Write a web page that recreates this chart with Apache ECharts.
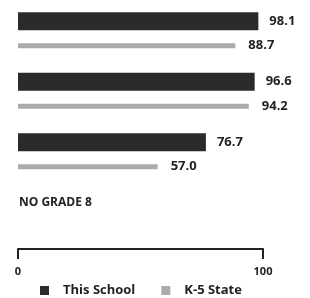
<!DOCTYPE html>
<html lang="en">
<head>
    <meta charset="UTF-8">
    <title>School vs State</title>
    <script src="https://cdn.jsdelivr.net/npm/echarts@6/dist/echarts.min.js"></script>
    <style>
        html, body { margin: 0; padding: 0; background: #fff; }
        #chart { width: 310px; height: 298px; }
    </style>
</head>
<body>
    <div id="chart"></div>
    <script>
        // 数据
        var grades = ['Grade 3', 'Grade 4', 'Grade 5', 'Grade 8'];
        var schoolValues = [98.1, 96.6, 76.7, 0];
        var stateValues = [88.7, 94.2, 57.0, null];
        var axisTicks = [0, 100];

        var textFont = '"Open Sans", "Liberation Sans", sans-serif';

        var chart = echarts.init(document.getElementById('chart'));

        var schoolData = schoolValues.map(function (v, i) {
            if (i === 3) {
                return {
                    value: v,
                    label: {
                        formatter: 'NO GRADE 8',
                        distance: 1,
                        fontSize: 12,
                        fontWeight: 'bold'
                    }
                };
            }
            return v;
        });

        var option = {
            animation: false,
            grid: { left: 18, right: 47, top: 0, height: 242 },
            legend: {
                bottom: 1,
                left: 40,
                padding: 0,
                itemWidth: 9,
                itemHeight: 9,
                itemGap: 26,
                icon: 'rect',
                textStyle: {
                    fontFamily: textFont, fontSize: 13, fontWeight: 'bold', color: '#222',
                    padding: [0, 0, 0, 9]
                },
                data: ['This School', 'K-5 State']
            },
            xAxis: {
                type: 'value',
                min: axisTicks[0],
                max: axisTicks[1],
                interval: 100,
                offset: 7,
                splitLine: { show: false },
                axisLine: { show: true, lineStyle: { color: '#222', width: 2 } },
                axisTick: { show: true, length: 10, lineStyle: { color: '#222', width: 2 } },
                axisLabel: {
                    fontFamily: textFont, fontSize: 11, fontWeight: 'bold', color: '#222', margin: 17,
                    formatter: function (v) { return v; }
                }
            },
            yAxis: {
                type: 'category',
                inverse: true,
                data: grades,
                axisLine: { show: false },
                axisTick: { show: false },
                axisLabel: { show: false }
            },
            series: [
                {
                    name: 'This School',
                    type: 'bar',
                    barWidth: 18,
                    barGap: '72%',
                    itemStyle: { color: '#2b2b2b' },
                    label: {
                        show: true,
                        position: 'right',
                        distance: 11,
                        fontFamily: textFont,
                        fontSize: 13,
                        fontWeight: 'bold',
                        color: '#222',
                        formatter: function (p) { return p.value.toFixed(1); }
                    },
                    data: schoolData
                },
                {
                    name: 'K-5 State',
                    type: 'bar',
                    barWidth: 5,
                    itemStyle: { color: '#ababab' },
                    label: {
                        show: true,
                        position: 'right',
                        distance: 13,
                        fontFamily: textFont,
                        fontSize: 13,
                        fontWeight: 'bold',
                        color: '#222',
                        formatter: function (p) { return p.value.toFixed(1); }
                    },
                    data: stateValues
                }
            ]
        };

        chart.setOption(option);
    </script>
</body>
</html>
